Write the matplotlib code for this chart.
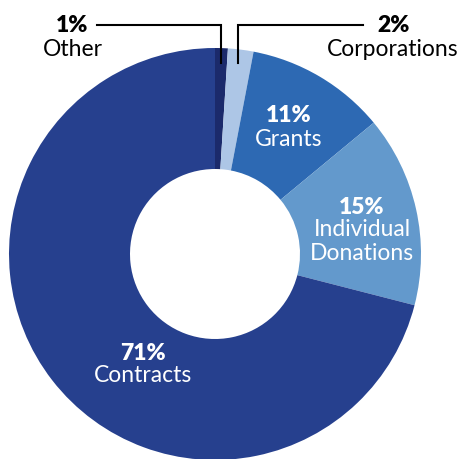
import matplotlib
matplotlib.use('Agg')
import matplotlib.pyplot as plt

plt.rcParams['font.family'] = ['Lato', 'DejaVu Sans']

# data
labels = ['Other', 'Corporations', 'Grants', 'Individual\nDonations', 'Contracts']
shares = [1, 2, 11, 15, 71]
colors = ['#1b2a6b', '#adc6e6', '#2d69b3', '#6399cc', '#26408e']

W, H = 466, 459
fig = plt.figure(figsize=(W / 100, H / 100), dpi=100)
ax = fig.add_axes([0, 0, 1, 1])

cx, cy = 215, H - 254
R, r_in = 206, 85
ax.pie(shares, colors=colors, startangle=90, counterclock=False,
       center=(cx, cy), radius=R,
       wedgeprops=dict(width=R - r_in, linewidth=0))
ax.set_xlim(0, W)
ax.set_ylim(0, H)
ax.set_aspect('equal')
ax.axis('off')

fs = 16.5


def label(x, y, i, color):
    # percent on top, category name lines below (pixel coords, top-left origin)
    ax.text(x, H - y, f'{shares[i]}%', color=color, fontsize=fs,
            fontweight='heavy', ha='center', va='center')
    for k, line in enumerate(labels[i].split('\n')):
        ax.text(x, H - y - 23 * (k + 1), line, color=color, fontsize=fs,
                ha='center', va='center')


label(289, 116, 2, 'white')
label(362, 207, 3, 'white')
label(143, 353, 4, 'white')

# callouts for the two small slices
ax.plot([221, 221, 97], [H - 63, H - 25, H - 25], color='black', lw=1.5,
        solid_joinstyle='miter')
ax.plot([238, 238, 363], [H - 63, H - 25, H - 25], color='black', lw=1.5,
        solid_joinstyle='miter')
ax.text(72, H - 26, f'{shares[0]}%', fontsize=fs, fontweight='heavy',
        ha='center', va='center', color='black')
ax.text(73, H - 49, labels[0], fontsize=fs, ha='center', va='center', color='black')
ax.text(394, H - 26, f'{shares[1]}%', fontsize=fs, fontweight='heavy',
        ha='center', va='center', color='black')
ax.text(393, H - 49, labels[1], fontsize=fs, ha='center', va='center', color='black')

fig.savefig('out.png', dpi=100)
